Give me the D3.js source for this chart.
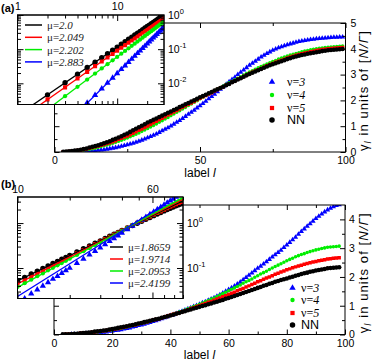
<!DOCTYPE html>
<html>
<head>
<meta charset="utf-8">
<script src="https://cdn.jsdelivr.net/npm/d3@7"></script>
<style>
body { margin: 0; background: #fff; }
svg { display: block; font-family: "Liberation Sans", Arial, sans-serif; }
</style>
</head>
<body>
<div id="chart"></div>
<script>
// ---- panel (a): gamma_l vs label l, l = 1..99
const labelsA = d3.range(1, 100);
const gammaA_nu3 = [0.00,0.00,0.00,0.00,0.00,0.00,0.01,0.01,0.01,0.02,
  0.03,0.03,0.04,0.05,0.07,0.08,0.09,0.11,0.13,0.15,
  0.17,0.19,0.22,0.25,0.28,0.31,0.34,0.38,0.42,0.46,
  0.50,0.55,0.60,0.65,0.70,0.76,0.82,0.88,0.94,1.01,
  1.08,1.15,1.22,1.30,1.38,1.46,1.54,1.62,1.71,1.79,
  1.88,1.97,2.06,2.15,2.24,2.34,2.43,2.53,2.62,2.72,
  2.81,2.90,3.00,3.09,3.18,3.27,3.36,3.44,3.52,3.60,
  3.68,3.75,3.82,3.88,3.94,3.99,4.04,4.08,4.12,4.16,
  4.19,4.22,4.25,4.28,4.30,4.32,4.34,4.36,4.37,4.39,
  4.40,4.41,4.42,4.43,4.44,4.45,4.45,4.46,4.46];
const gammaA_nu4 = [0.00,0.00,0.00,0.01,0.01,0.02,0.03,0.04,0.06,0.07,
  0.09,0.11,0.13,0.15,0.18,0.21,0.24,0.27,0.30,0.34,
  0.38,0.42,0.46,0.50,0.54,0.59,0.64,0.69,0.74,0.80,
  0.85,0.91,0.97,1.03,1.09,1.15,1.21,1.28,1.34,1.41,
  1.47,1.54,1.60,1.67,1.73,1.80,1.86,1.93,1.99,2.06,
  2.12,2.19,2.25,2.31,2.38,2.44,2.50,2.56,2.62,2.68,
  2.74,2.80,2.86,2.92,2.98,3.04,3.10,3.15,3.21,3.26,
  3.31,3.36,3.41,3.46,3.51,3.55,3.60,3.64,3.68,3.72,
  3.76,3.79,3.82,3.85,3.88,3.91,3.93,3.96,3.98,4.00,
  4.02,4.03,4.05,4.06,4.07,4.08,4.09,4.10,4.11];
const gammaA_nu5 = [0.00,0.00,0.01,0.01,0.02,0.03,0.05,0.06,0.08,0.10,
  0.12,0.14,0.17,0.20,0.23,0.26,0.29,0.33,0.36,0.40,
  0.44,0.49,0.53,0.58,0.62,0.67,0.73,0.78,0.84,0.89,
  0.95,1.01,1.07,1.13,1.19,1.25,1.31,1.37,1.43,1.49,
  1.55,1.61,1.67,1.73,1.79,1.85,1.90,1.96,2.02,2.08,
  2.14,2.19,2.25,2.30,2.36,2.42,2.47,2.53,2.59,2.64,
  2.70,2.76,2.82,2.87,2.93,2.98,3.04,3.09,3.14,3.19,
  3.24,3.29,3.34,3.39,3.43,3.48,3.52,3.56,3.60,3.64,
  3.68,3.71,3.75,3.78,3.81,3.84,3.86,3.89,3.91,3.93,
  3.95,3.97,3.98,4.00,4.01,4.02,4.03,4.04,4.05];
const gammaA_nn = [0.00,0.00,0.01,0.02,0.03,0.04,0.06,0.07,0.09,0.12,
  0.14,0.17,0.20,0.23,0.26,0.30,0.34,0.38,0.42,0.47,
  0.51,0.56,0.61,0.67,0.72,0.78,0.84,0.90,0.96,1.02,
  1.08,1.14,1.19,1.25,1.30,1.36,1.41,1.46,1.52,1.57,
  1.63,1.68,1.74,1.79,1.85,1.90,1.96,2.01,2.06,2.12,
  2.17,2.22,2.28,2.33,2.38,2.43,2.48,2.53,2.59,2.64,
  2.70,2.75,2.81,2.86,2.92,2.97,3.02,3.07,3.12,3.17,
  3.22,3.27,3.31,3.36,3.40,3.44,3.48,3.52,3.56,3.60,
  3.63,3.67,3.70,3.73,3.76,3.78,3.81,3.83,3.85,3.87,
  3.89,3.91,3.92,3.94,3.95,3.96,3.97,3.98,3.99];

// inset (a): small-l part on log-log axes, l = 2..29
const insetLabelsA = d3.range(2, 30);
const insetA_nn  = [0.0046,0.0104,0.0185,0.0290,0.0413,0.0568,0.0735,0.0938,0.115,0.140,0.166,0.195,0.226,0.259,0.296,0.333,0.374,0.416,0.462,0.508,0.558,0.611,0.664,0.721,0.780,0.840,0.905,0.970];
const insetA_nu5 = [0.0034,0.0076,0.0139,0.0217,0.0318,0.0434,0.0573,0.0725,0.0905,0.110,0.131,0.155,0.180,0.207,0.236,0.268,0.301,0.337,0.373,0.413,0.454,0.497,0.543,0.590,0.640,0.691,0.745,0.800];
const insetA_nu4 = [0.0017,0.0042,0.0079,0.0129,0.0193,0.0272,0.0363,0.0472,0.0594,0.0735,0.0888,0.106,0.125,0.145,0.167,0.191,0.217,0.244,0.274,0.305,0.337,0.372,0.409,0.447,0.488,0.530,0.574,0.620];
const insetA_nu3 = [0.0002,0.0006,0.0014,0.0027,0.0045,0.0070,0.0103,0.0144,0.0195,0.0257,0.0330,0.0416,0.0514,0.0628,0.0756,0.0900,0.106,0.124,0.144,0.166,0.189,0.215,0.243,0.274,0.307,0.342,0.380,0.420];
// fitted exponents (legend order: NN, nu=5, nu=4, nu=3) and prefactors at l = 29
const muA = [2.0, 2.049, 2.202, 2.883];
const muLabelsA = ["2.0", "2.049", "2.202", "2.883"];
const fitAmpA = [0.97, 0.80, 0.62, 0.42];
const fitRefA = 29;

// ---- panel (b): gamma_l vs label l, l = 1..98
const labelsB = d3.range(1, 99);
const gammaB_nu3 = [0.00,0.00,0.00,0.00,0.00,0.01,0.01,0.01,0.02,0.02,
  0.03,0.03,0.04,0.05,0.06,0.07,0.08,0.09,0.11,0.12,
  0.14,0.15,0.17,0.19,0.21,0.23,0.26,0.28,0.31,0.33,
  0.36,0.39,0.42,0.45,0.48,0.51,0.55,0.58,0.62,0.66,
  0.69,0.73,0.77,0.81,0.85,0.89,0.93,0.97,1.01,1.05,
  1.10,1.14,1.19,1.23,1.28,1.33,1.38,1.44,1.50,1.56,
  1.62,1.68,1.75,1.82,1.90,1.98,2.06,2.14,2.22,2.30,
  2.37,2.45,2.53,2.61,2.69,2.77,2.85,2.93,3.02,3.11,
  3.20,3.29,3.38,3.48,3.58,3.67,3.76,3.85,3.94,4.03,
  4.11,4.19,4.26,4.33,4.39,4.44,4.48,4.51];
const gammaB_nu4 = [0.00,0.00,0.00,0.01,0.01,0.01,0.02,0.03,0.03,0.04,
  0.05,0.06,0.07,0.08,0.09,0.10,0.12,0.13,0.15,0.16,
  0.18,0.20,0.22,0.24,0.26,0.28,0.31,0.33,0.36,0.38,
  0.41,0.43,0.46,0.49,0.52,0.55,0.58,0.61,0.64,0.67,
  0.71,0.74,0.78,0.81,0.85,0.89,0.93,0.97,1.01,1.05,
  1.09,1.14,1.18,1.23,1.27,1.32,1.37,1.42,1.47,1.52,
  1.57,1.62,1.67,1.72,1.78,1.83,1.88,1.93,1.99,2.04,
  2.10,2.15,2.20,2.26,2.31,2.36,2.41,2.46,2.51,2.56,
  2.61,2.65,2.70,2.74,2.78,2.81,2.85,2.88,2.91,2.94,
  2.96,2.99,3.01,3.03,3.04,3.05,3.06,3.07];
const gammaB_nu5 = [0.00,0.00,0.00,0.01,0.01,0.02,0.02,0.03,0.04,0.04,
  0.05,0.06,0.08,0.09,0.10,0.11,0.13,0.14,0.16,0.18,
  0.19,0.21,0.23,0.25,0.28,0.30,0.32,0.34,0.37,0.39,
  0.42,0.44,0.47,0.50,0.52,0.55,0.58,0.61,0.64,0.67,
  0.70,0.73,0.76,0.79,0.83,0.86,0.90,0.93,0.97,1.00,
  1.04,1.08,1.12,1.15,1.19,1.23,1.27,1.31,1.35,1.39,
  1.43,1.47,1.52,1.56,1.60,1.65,1.69,1.74,1.78,1.83,
  1.87,1.92,1.96,2.00,2.04,2.09,2.13,2.17,2.21,2.25,
  2.28,2.32,2.35,2.38,2.41,2.44,2.47,2.49,2.52,2.54,
  2.56,2.58,2.60,2.62,2.63,2.65,2.66,2.67];
const gammaB_nn = [0.00,0.00,0.01,0.01,0.01,0.02,0.03,0.03,0.04,0.05,
  0.06,0.07,0.08,0.10,0.11,0.12,0.14,0.15,0.17,0.19,
  0.21,0.23,0.25,0.27,0.29,0.31,0.33,0.36,0.38,0.40,
  0.43,0.45,0.48,0.50,0.53,0.55,0.58,0.61,0.63,0.66,
  0.69,0.72,0.75,0.78,0.81,0.84,0.87,0.90,0.93,0.96,
  0.99,1.02,1.05,1.08,1.11,1.14,1.17,1.20,1.24,1.27,
  1.30,1.34,1.37,1.41,1.44,1.48,1.51,1.55,1.58,1.62,
  1.65,1.69,1.72,1.76,1.79,1.83,1.86,1.89,1.92,1.95,
  1.98,2.01,2.04,2.07,2.10,2.13,2.15,2.18,2.20,2.22,
  2.24,2.26,2.28,2.30,2.31,2.32,2.33,2.34];

// inset (b): large-l part on log-log axes
const insetLabelsB = [10,11,12,13,14,15,16,17,18,19,20,22,24,26,28,30,32,34,36,38,40,
  43,46,49,52,55,58,61,64,67,70,73,76,79,82,85,88];
const insetB_nn  = [0.053,0.062,0.074,0.085,0.098,0.111,0.126,0.140,0.157,0.172,0.190,0.228,0.268,0.310,0.356,0.403,0.455,0.508,0.563,0.622,0.682,0.778,0.880,0.985,1.10,1.21,1.33,1.46,1.59,1.72,1.86,2.00,2.14,2.28,2.42,2.55,2.68];
const insetB_nu5 = [0.045,0.053,0.065,0.075,0.088,0.099,0.114,0.127,0.143,0.158,0.176,0.212,0.251,0.295,0.340,0.390,0.441,0.497,0.555,0.617,0.680,0.785,0.895,1.01,1.13,1.26,1.39,1.53,1.67,1.82,1.98,2.13,2.30,2.46,2.62,2.80,2.96];
const insetB_nu4 = [0.038,0.046,0.055,0.066,0.076,0.089,0.101,0.115,0.129,0.145,0.161,0.196,0.236,0.278,0.324,0.372,0.425,0.481,0.540,0.603,0.670,0.778,0.895,1.02,1.15,1.29,1.44,1.59,1.75,1.92,2.10,2.28,2.47,2.66,2.86,3.06,3.25];
const insetB_nu3 = [0.017,0.021,0.027,0.033,0.040,0.048,0.057,0.066,0.077,0.088,0.100,0.128,0.160,0.197,0.238,0.284,0.336,0.394,0.456,0.525,0.600,0.725,0.862,1.01,1.18,1.36,1.56,1.78,2.01,2.26,2.53,2.82,3.13,3.46,3.80,4.15,4.50];
const muB = [1.8659, 1.9714, 2.0953, 2.4199];
const muLabelsB = ["1.8659", "1.9714", "2.0953", "2.4199"];
const fitAmpB = [0.77, 0.77, 0.77, 0.77];
const fitRefB = 42.5;

const nuLabels = ["3", "4", "5"];

// styles per series: nu=3, nu=4, nu=5, NN (size = symbol area in main plots)
const style = {
  nu3: {color: "#0000ff", shape: d3.symbolTriangle, size: 12},
  nu4: {color: "#00ee00", shape: d3.symbolCircle, size: 10},
  nu5: {color: "#ff0000", shape: d3.symbolSquare, size: 12},
  nn:  {color: "#000000", shape: d3.symbolCircle, size: 16}
};
const insetScale = 1.4;
const serif = "'Liberation Serif', 'Times New Roman', serif";

const svg = d3.select("#chart").append("svg")
  .attr("width", 374).attr("height", 361);

let clipCount = 0;
function clipTo(x0, y0, w, h) {
  const id = "clip" + (clipCount++);
  svg.append("clipPath").attr("id", id).append("rect")
    .attr("x", x0).attr("y", y0).attr("width", w).attr("height", h);
  return "url(#" + id + ")";
}

function drawMarks(g, xs, ys, x, y, s, k) {
  g.append("g").selectAll("path")
    .data(ys.map((v, i) => [xs[i], v]).filter(d => d[1] > 0))
    .join("path")
    .attr("transform", d => `translate(${x(d[0])},${y(d[1])})`)
    .attr("d", d3.symbol().type(s.shape).size(s.size * (k || 1)))
    .attr("fill", s.color);
}

// one side of ticks; labels only when fmt is given
function ticks(g, orient, scale, pos, values, size, fmt, pad) {
  const ax = orient(scale).tickValues(values).tickSize(-size)
    .tickPadding(pad || 3).tickFormat(fmt || (() => ""));
  const sel = g.append("g").attr("transform", pos).call(ax);
  sel.select(".domain").remove();
  sel.selectAll("line").attr("stroke", "#000");
  sel.selectAll("text").attr("font-size", 10.5).attr("fill", "#000")
    .attr("font-family", "'Liberation Sans', Arial, sans-serif");
  return sel;
}

function frame(g, x, y, fill) {
  const [x0, x1] = x.range(), [y0, y1] = y.range();
  g.append("rect")
    .attr("x", x0).attr("y", y1).attr("width", x1 - x0).attr("height", y0 - y1)
    .attr("fill", fill || "none").attr("stroke", "#000").attr("stroke-width", 1);
}

function powerLabels(sel) {
  sel.selectAll("text").each(function(d) {
    const t = d3.select(this).text("");
    t.append("tspan").text("10");
    t.append("tspan").attr("dy", -5).attr("font-size", 7.5)
      .text(Math.round(Math.log10(d)));
  });
}

function decadeMinors(lo, hi) {
  const out = [];
  for (let e = Math.floor(Math.log10(lo)); e <= Math.ceil(Math.log10(hi)); e++) {
    for (let m = 2; m <= 9; m++) {
      const v = m * Math.pow(10, e);
      if (v >= lo && v <= hi) out.push(v);
    }
  }
  return out;
}

function mainPanel(opt) {
  const g = svg.append("g");
  const x = opt.x, y = opt.y;
  const [x0, x1] = x.range(), [y0, y1] = y.range();
  const data = g.append("g").attr("clip-path", clipTo(x0, y1, x1 - x0, y0 - y1));
  drawMarks(data, opt.labels, opt.series[0], x, y, style.nu3);
  drawMarks(data, opt.labels, opt.series[1], x, y, style.nu4);
  drawMarks(data, opt.labels, opt.series[2], x, y, style.nu5);
  drawMarks(data, opt.labels, opt.series[3], x, y, style.nn);
  frame(g, x, y);

  ticks(g, d3.axisBottom, x, `translate(0,${y0})`, opt.xMajor, 5, d3.format("d"), opt.xPad);
  ticks(g, d3.axisBottom, x, `translate(0,${y0})`, opt.xMinor, 3);
  ticks(g, d3.axisTop, x, `translate(0,${y1})`, opt.xMajor, 5);
  ticks(g, d3.axisTop, x, `translate(0,${y1})`, opt.xMinor, 3);
  ticks(g, d3.axisRight, y, `translate(${x1},0)`, opt.yMajor, 5, d3.format("d"), opt.yPad);
  ticks(g, d3.axisRight, y, `translate(${x1},0)`, opt.yMinor, 3);
  ticks(g, d3.axisLeft, y, `translate(${x0},0)`, opt.yMajor, 5);
  ticks(g, d3.axisLeft, y, `translate(${x0},0)`, opt.yMinor, 3);

  // axis titles
  const xl = g.append("text").attr("x", (x0 + x1) / 2).attr("y", opt.xLabelY)
    .attr("text-anchor", "middle").attr("font-size", 12);
  xl.append("tspan").text("label ");
  xl.append("tspan").attr("font-style", "italic").text("l");

  const yl = g.append("text")
    .attr("transform", `translate(368,${(y0 + y1) / 2 + 3}) rotate(-90)`)
    .attr("text-anchor", "middle").attr("font-size", 13)
    .attr("letter-spacing", 1.1);
  yl.append("tspan").text("γ");
  yl.append("tspan").attr("font-style", "italic").attr("font-size", 9).attr("dy", 3).text("l");
  yl.append("tspan").attr("dy", -3).text(" in units of [");
  yl.append("tspan").attr("font-style", "italic").text("N/Γ");
  yl.append("tspan").text("]");

  // legend
  const keys = ["nu3", "nu4", "nu5", "nn"];
  keys.forEach((k, i) => {
    const ly = opt.legendY[i];
    g.append("path")
      .attr("transform", `translate(${opt.legendX},${ly})`)
      .attr("d", d3.symbol().type(style[k].shape).size(style[k].size * 1.5))
      .attr("fill", style[k].color);
    const t = g.append("text").attr("x", opt.legendTextX).attr("y", ly + 4);
    if (k === "nn") {
      t.attr("font-size", 12.5).text("NN");
    } else {
      t.attr("font-family", serif).attr("font-size", 12);
      t.append("tspan").text("ν=");
      t.append("tspan").attr("font-style", "italic").text(nuLabels[i]);
    }
  });

  g.append("text").attr("x", 1).attr("y", opt.tagY)
    .attr("font-size", 11).attr("font-weight", "bold").text(opt.tag);
}

function insetPanel(opt) {
  const g = svg.append("g");
  const x = opt.x, y = opt.y;
  const [x0, x1] = x.range(), [y0, y1] = y.range();
  frame(g, x, y, "#fff");
  const data = g.append("g").attr("clip-path", clipTo(x0, y1, x1 - x0, y0 - y1));
  const keys = ["nn", "nu5", "nu4", "nu3"];
  keys.forEach((k, i) => drawMarks(data, opt.labels, opt.series[i], x, y, style[k], insetScale));
  // power-law fits
  keys.forEach((k, i) => {
    const ends = x.domain().map(l => [l, opt.amp[i] * Math.pow(l / opt.ref, opt.mu[i])]);
    data.append("path")
      .attr("d", d3.line().x(d => x(d[0])).y(d => y(d[1]))(ends))
      .attr("fill", "none").attr("stroke", style[k].color).attr("stroke-width", 1.3);
  });
  frame(g, x, y);

  ticks(g, d3.axisTop, x, `translate(0,${y1})`, opt.xMajor, 6, d3.format("d"), opt.xPad);
  ticks(g, d3.axisTop, x, `translate(0,${y1})`, opt.xMinor, 3.5);
  ticks(g, d3.axisBottom, x, `translate(0,${y0})`, opt.xMajor, 6);
  ticks(g, d3.axisBottom, x, `translate(0,${y0})`, opt.xMinor, 3.5);
  const yr = ticks(g, d3.axisRight, y, `translate(${x1},0)`, opt.yMajor, 6, d3.format("g"), 4);
  powerLabels(yr);
  ticks(g, d3.axisRight, y, `translate(${x1},0)`, decadeMinors(...y.domain()), 3.5);
  ticks(g, d3.axisLeft, y, `translate(${x0},0)`, opt.yMajor, 6);
  ticks(g, d3.axisLeft, y, `translate(${x0},0)`, decadeMinors(...y.domain()), 3.5);

  // legend: line + mu value
  keys.forEach((k, i) => {
    const ly = opt.legendY + i * opt.legendStep;
    g.append("line").attr("x1", opt.legendX).attr("x2", opt.legendX + opt.legendLen)
      .attr("y1", ly).attr("y2", ly)
      .attr("stroke", style[k].color).attr("stroke-width", 1.5);
    const t = g.append("text").attr("x", opt.legendX + opt.legendLen + 5).attr("y", ly + 4)
      .attr("font-family", serif).attr("font-size", 11).attr("fill", "#222");
    t.append("tspan").text("μ=");
    t.append("tspan").attr("font-style", "italic").text(opt.muLabels[i]);
  });
}

// ---- panel (a)
mainPanel({
  x: d3.scaleLinear([0, 100], [54.5, 345.5]),
  y: d3.scaleLinear([0, 5], [152, 23]),
  labels: labelsA,
  series: [gammaA_nu3, gammaA_nu4, gammaA_nu5, gammaA_nn],
  xMajor: [0, 50, 100], xMinor: [25, 75], xPad: 5,
  yMajor: [0, 1, 2, 3, 4, 5], yMinor: [0.5, 1.5, 2.5, 3.5, 4.5], yPad: 5,
  xLabelY: 177,
  legendX: 272, legendTextX: 287, legendY: [82, 95, 108, 120],
  tag: "(a)", tagY: 12
});
insetPanel({
  x: d3.scaleLog([1, 29.5], [17.5, 164]),
  y: d3.scaleLog([0.0024, 1], [104.5, 15]),
  labels: insetLabelsA,
  series: [insetA_nn, insetA_nu5, insetA_nu4, insetA_nu3],
  mu: muA, muLabels: muLabelsA, amp: fitAmpA, ref: fitRefA,
  xMajor: [1, 10], xMinor: [2, 3, 4, 5, 6, 7, 8, 9, 20], xPad: 5,
  yMajor: [0.01, 0.1, 1],
  legendX: 25, legendLen: 17, legendY: 25, legendStep: 12.3
});

// ---- panel (b)
mainPanel({
  x: d3.scaleLinear([0, 100], [54, 345]),
  y: d3.scaleLinear([0, 4.5], [334.5, 205]),
  labels: labelsB,
  series: [gammaB_nu3, gammaB_nu4, gammaB_nu5, gammaB_nn],
  xMajor: [0, 20, 40, 60, 80, 100], xMinor: [10, 30, 50, 70, 90], xPad: 5,
  yMajor: [0, 1, 2, 3, 4], yMinor: [0.5, 1.5, 2.5, 3.5], yPad: 4,
  xLabelY: 359,
  legendX: 292.5, legendTextX: 301, legendY: [288, 300, 313, 325],
  tag: "(b)", tagY: 188
});
insetPanel({
  x: d3.scaleLog([10, 90], [17.5, 183]),
  y: d3.scaleLog([0.021, 3.8], [298.5, 197]),
  labels: insetLabelsB,
  series: [insetB_nn, insetB_nu5, insetB_nu4, insetB_nu3],
  mu: muB, muLabels: muLabelsB, amp: fitAmpB, ref: fitRefB,
  xMajor: [10, 60], xMinor: [20, 30, 40, 50, 70, 80, 90], xPad: 4,
  yMajor: [0.1, 1],
  legendX: 110, legendLen: 13, legendY: 247, legendStep: 12
});
</script>
</body>
</html>
